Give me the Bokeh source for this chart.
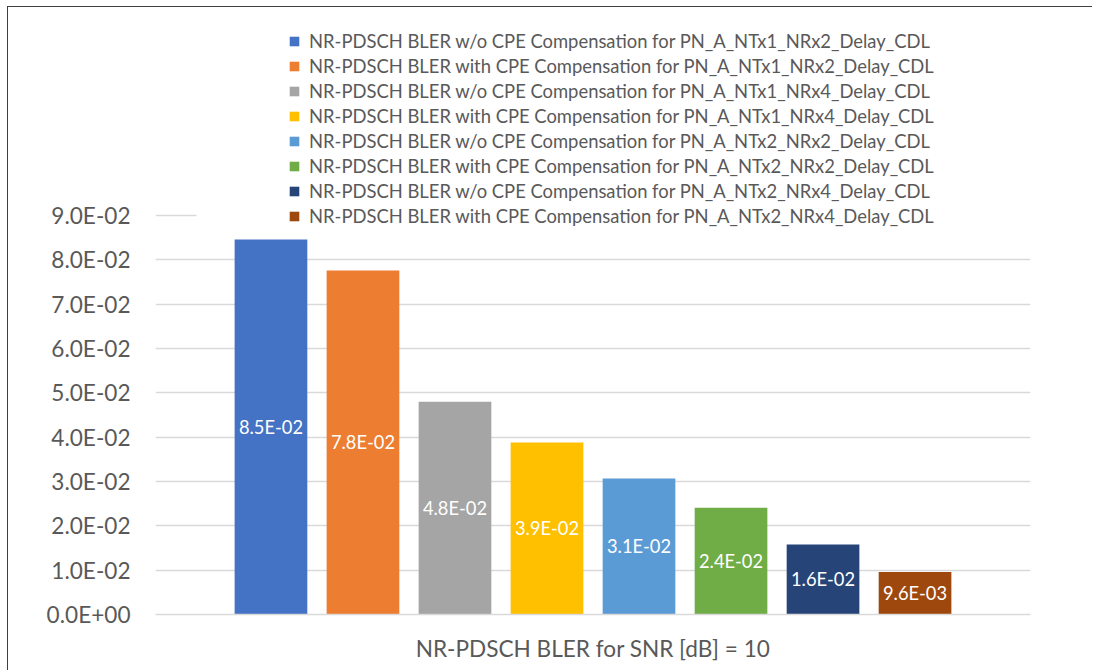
from bokeh.plotting import figure
from bokeh.models import (ColumnDataSource, Range1d, Legend, LegendItem, FixedTicker,
                          CustomJSTickFormatter, BoxAnnotation)
from bokeh.core.properties import value
from bokeh.embed import file_html
from bokeh.resources import INLINE

# ---------------- data ----------------
series = [
    "NR-PDSCH BLER w/o CPE Compensation for PN_A_NTx1_NRx2_Delay_CDL",
    "NR-PDSCH BLER with CPE Compensation for PN_A_NTx1_NRx2_Delay_CDL",
    "NR-PDSCH BLER w/o CPE Compensation for PN_A_NTx1_NRx4_Delay_CDL",
    "NR-PDSCH BLER with CPE Compensation for PN_A_NTx1_NRx4_Delay_CDL",
    "NR-PDSCH BLER w/o CPE Compensation for PN_A_NTx2_NRx2_Delay_CDL",
    "NR-PDSCH BLER with CPE Compensation for PN_A_NTx2_NRx2_Delay_CDL",
    "NR-PDSCH BLER w/o CPE Compensation for PN_A_NTx2_NRx4_Delay_CDL",
    "NR-PDSCH BLER with CPE Compensation for PN_A_NTx2_NRx4_Delay_CDL",
]
bler = [0.0846, 0.0776, 0.0480, 0.0388, 0.0307, 0.0241, 0.0158, 0.0096]
colors = ["#4472C4", "#ED7D31", "#A5A5A5", "#FFC000", "#5B9BD5", "#70AD47", "#264478", "#9E480E"]
y_ticks = [0.0, 0.01, 0.02, 0.03, 0.04, 0.05, 0.06, 0.07, 0.08, 0.09]
x_title = "NR-PDSCH BLER for SNR [dB] = 10"

# ---------------- styling ----------------
FONT = "Lato"
TXT = "#595959"
GRID = "#D9D9D9"

n = len(series)
xs = list(range(n))
src = ColumnDataSource(dict(
    x=xs,
    top=bler,
    mid=[v / 2 for v in bler],
    color=colors,
    label=[f"{v:.1E}" for v in bler],
))

pad = 1.255
bar_w = 0.79
y_top = y_ticks[-1] * 597.0 / 399.0  # extra room above the top tick for the legend

p = figure(width=1085, height=664,
           x_range=Range1d(-pad, n - 1 + pad),
           y_range=Range1d(0, y_top),
           min_border_left=147, min_border_right=63,
           min_border_top=10, min_border_bottom=57,
           output_backend="svg", toolbar_location=None)
p.outline_line_color = None
p.background_fill_color = "white"
p.border_fill_color = "white"
# chart-area border on the top and left edges (drawn as an outer shadow, no layout change)
p.styles = {"margin-left": "8px", "margin-top": "7px",
            "box-shadow": "-1px -1px 0px 0px #3f3f3f"}

r = p.vbar(x="x", top="top", width=bar_w, bottom=0, color="color", source=src, line_color=None)

p.text(x="x", y="mid", text="label", source=src, text_align="center", text_baseline="middle",
       text_color="white", text_font=value(FONT), text_font_size="18.3px")

# y axis
p.yaxis.ticker = FixedTicker(ticks=y_ticks)
p.yaxis.formatter = CustomJSTickFormatter(code="""
const s = tick.toExponential(1);
const parts = s.split('e');
const sign = parts[1][0];
const d = parts[1].slice(1).padStart(2, '0');
return parts[0] + 'E' + sign + d;
""")
p.yaxis.axis_line_color = None
p.yaxis.major_tick_out = 0
p.yaxis.major_tick_in = 0
p.yaxis.minor_tick_out = 0
p.yaxis.minor_tick_in = 0
p.yaxis.major_label_standoff = 25
p.yaxis.major_label_text_font = FONT
p.yaxis.major_label_text_font_size = "22.6px"
p.yaxis.major_label_text_color = TXT

p.ygrid.ticker = FixedTicker(ticks=y_ticks)
p.ygrid.grid_line_color = GRID
p.ygrid.grid_line_width = 1.3
p.xgrid.grid_line_color = None

# x axis
p.xaxis.ticker = FixedTicker(ticks=[])
p.xaxis.axis_line_color = GRID
p.xaxis.axis_line_width = 1.3
p.xaxis.major_tick_out = 0
p.xaxis.major_tick_in = 0
p.xaxis.minor_tick_out = 0
p.xaxis.minor_tick_in = 0
p.xaxis.major_label_standoff = 0
p.xaxis.axis_label = x_title
p.xaxis.axis_label_text_font = FONT
p.xaxis.axis_label_text_font_size = "22.6px"
p.xaxis.axis_label_text_font_style = "normal"
p.xaxis.axis_label_text_color = TXT
p.xaxis.axis_label_standoff = 20

# white strip behind the legend that hides the top grid line (like the reference legend box)
p.add_layout(BoxAnnotation(left=-pad + 0.446, right=n - 1 + pad,
                           bottom=y_ticks[-1] - 0.002, top=y_ticks[-1] + 0.002,
                           fill_color="white", fill_alpha=1.0, line_color=None))

items = [LegendItem(label=s, renderers=[r], index=i) for i, s in enumerate(series)]
legend = Legend(items=items, location=(133, 387))
legend.background_fill_color = "white"
legend.background_fill_alpha = 1.0
legend.border_line_color = None
legend.padding = 6
legend.spacing = 2
legend.label_text_font = FONT
legend.label_text_font_size = "18.4px"
legend.label_text_color = TXT
legend.label_height = 23
legend.glyph_height = 12
legend.glyph_width = 12
legend.label_standoff = 9
legend.margin = 0
p.add_layout(legend)

open("out.html", "w").write(file_html(p, INLINE))
